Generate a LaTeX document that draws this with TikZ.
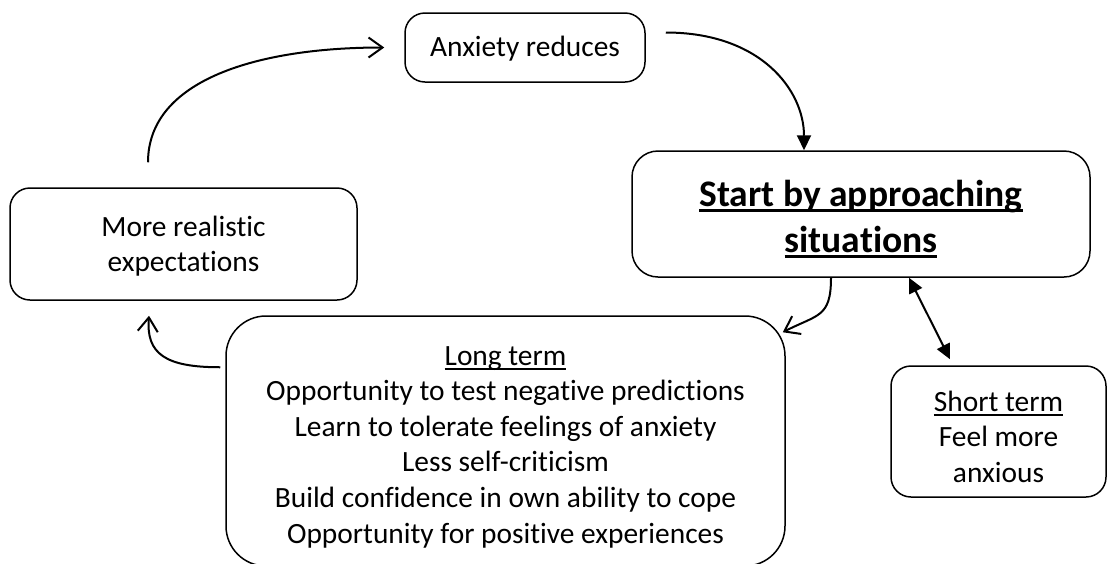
\documentclass[tikz,border=0pt]{standalone}
\usepackage{fontspec}
\setmainfont{Carlito}[Ligatures=NoCommon]
\usetikzlibrary{arrows.meta,calc}
\newcommand\myul[1]{\leavevmode\setbox0\hbox{#1}\rlap{\rule[-2.3pt]{\wd0}{1pt}}\box0}
\newcommand\myulb[1]{\leavevmode\setbox0\hbox{#1}\rlap{\rule[-3pt]{\wd0}{1.4pt}}\box0}
\begin{document}
\begin{tikzpicture}[x=0.5pt,y=-0.5pt,
  box/.style={draw,line width=0.75pt,rounded corners=10pt,align=center,inner sep=0pt,
    font=\fontsize{14.7}{17.8}\selectfont},
  openarr/.style={line width=1pt,-{Straight Barb[length=7pt,width=10pt,line width=1pt]}},
  fillarr/.style={line width=1pt,-{Triangle[length=7.5pt,width=7pt]}},
  dblarr/.style={line width=1pt,{Triangle[length=7.5pt,width=7pt]}-{Triangle[length=7.5pt,width=7pt]}}]
\clip (0,0) rectangle (1108,563);
\fill[white] (0,0) rectangle (1108,563);
\node[box,minimum width=120pt,minimum height=34.5pt] (Anx) at (525,47.5) {\rule{0pt}{11pt}Anxiety reduces};
\node[box,rounded corners=13pt,minimum width=229pt,minimum height=63pt,
  font=\fontsize{18.75}{23}\selectfont\bfseries] (Start) at (861,214)
  {\rule{0pt}{18pt}\myulb{Start by approaching}\\\myulb{situations}};
\node[box,minimum width=173.5pt,minimum height=56pt] (More) at (183.5,244) {\rule{0pt}{12.5pt}More realistic\\expectations};
\node[box,rounded corners=20pt,minimum width=279.5pt,minimum height=125pt] (Long) at (505.5,441)
  {\rule{0pt}{15.5pt}\myul{Long term}\\Opportunity to test negative predictions\\Learn to tolerate feelings of anxiety\\Less self-criticism\\Build confidence in own ability to cope\\Opportunity for positive experiences};
\node[box,minimum width=107.5pt,minimum height=65.5pt] (Short) at (998.5,431.5)
  {\rule{0pt}{15.5pt}\myul{Short term}\\Feel more\\anxious};
% arrows
\draw[openarr,shorten >=10pt] ([shift={(-35.5,-25)}]More.north) .. controls +(0,-83) and +(-145,0) .. (Anx.west);
\draw[fillarr] ([shift={(20,-15)}]Anx.east) .. controls +(95,0) and +(0,-60) .. ([xshift=-28.5pt]Start.north);
\draw[openarr] ([xshift=-15pt]Start.south) .. controls +(0,40) and +(35,-18) .. ([shift={(-3,17)}]Long.north east);
\draw[dblarr] ([xshift=24pt]Start.south) -- ([shift={(-48.5,-6)}]Short.north);
\draw[openarr] ([shift={(-5,52)}]Long.north west) .. controls +(-55,0) and +(-3,38) .. ([shift={(-34.5,15)}]More.south);
\end{tikzpicture}
\end{document}
